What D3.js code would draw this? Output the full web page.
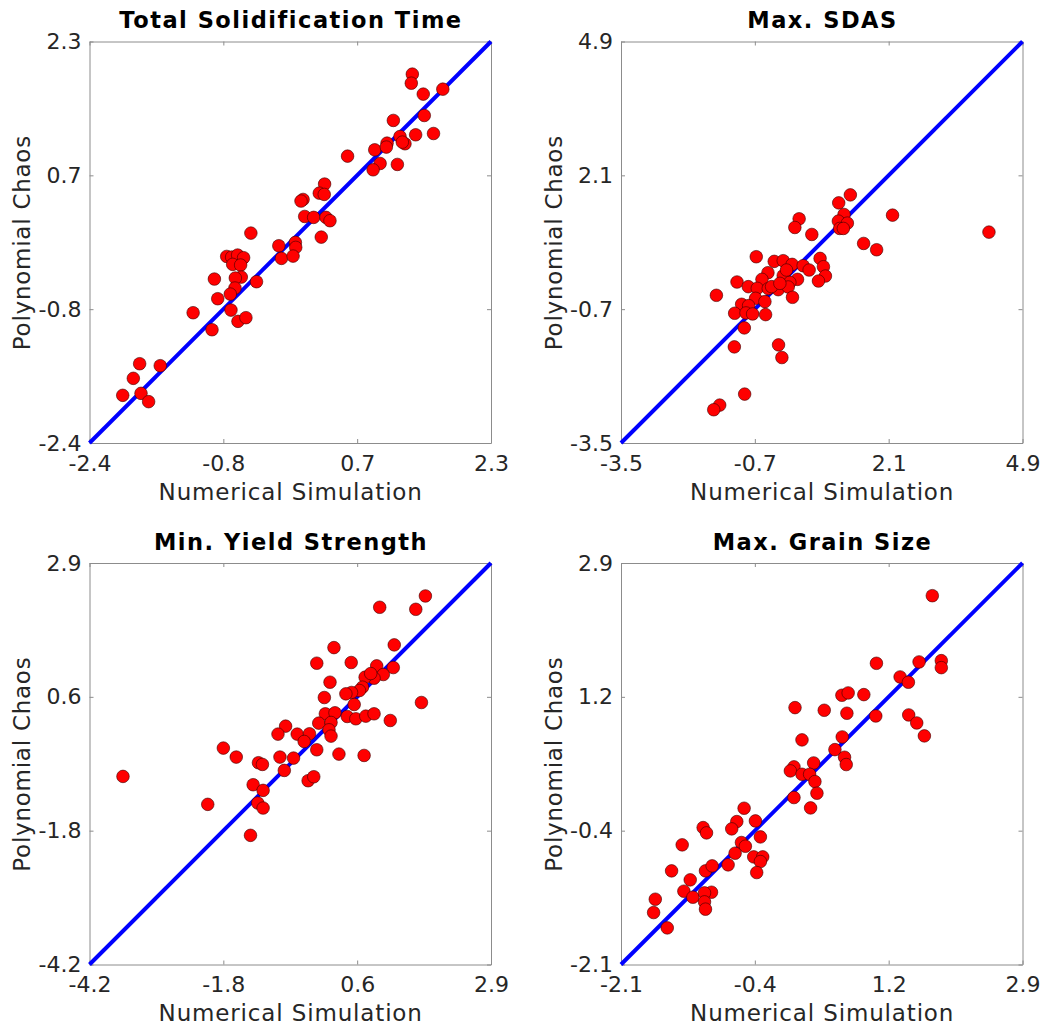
<!DOCTYPE html>
<html>
<head>
<meta charset="utf-8">
<script src="https://cdn.jsdelivr.net/npm/d3@7"></script>
<style>
  html, body { margin: 0; padding: 0; background: #fff; }
  svg { display: block; }
  text { font-family: "DejaVu Sans", sans-serif; fill: #262626; }
</style>
</head>
<body>
<svg id="chart" width="1049" height="1030"></svg>
<script>
// Panel titles and axis limits (each panel is square: same limits on x and y)
const titles = ["Total Solidification Time", "Max. SDAS", "Min. Yield Strength", "Max. Grain Size"];
const limits = [[-2.4, 2.3], [-3.5, 4.9], [-4.2, 2.9], [-2.1, 2.9]];
const tickLabels = [
  ["-2.4", "-0.8", "0.7", "2.3"],
  ["-3.5", "-0.7", "2.1", "4.9"],
  ["-4.2", "-1.8", "0.6", "2.9"],
  ["-2.1", "-0.4", "1.2", "2.9"]
];
const xLabel = "Numerical Simulation";
const yLabel = "Polynomial Chaos";

// Numerical simulation (x) vs polynomial chaos (y) pairs
const solidTimeSim = [1.379,1.367,1.507,1.736,1.157,1.519,1.235,1.418,1.627,1.083,1.293,1.262,0.939,1.075,0.621,1.002,1.204,0.920,0.352,0.290,0.348,0.100,0.076,0.119,0.224,0.368,0.415,0.313,-0.511,-0.184,0.010,0.014,-0.153,-0.017,-0.794,-0.736,-0.666,-0.596,-0.724,-0.631,-0.938,-0.623,-0.693,-0.445,-0.697,-0.752,-0.899,-1.187,-0.744,-0.662,-0.569,-0.966,-1.813,-1.572,-1.887,-1.797,-2.011,-1.708];
const solidTimePC  = [1.918,1.812,1.684,1.742,1.376,1.434,1.188,1.208,1.223,1.110,1.103,1.122,1.032,1.064,0.958,0.872,0.861,0.798,0.631,0.525,0.510,0.451,0.432,0.252,0.241,0.241,0.202,0.010,0.057,-0.091,-0.052,-0.110,-0.239,-0.212,-0.216,-0.224,-0.200,-0.231,-0.309,-0.317,-0.481,-0.458,-0.469,-0.512,-0.586,-0.657,-0.711,-0.875,-0.844,-0.976,-0.933,-1.074,-1.472,-1.495,-1.643,-1.819,-1.842,-1.916];

const sdasSim = [1.298,1.055,1.166,1.048,1.236,1.076,1.152,2.181,4.198,0.227,0.137,0.492,1.576,1.848,-0.670,0.665,-0.294,-0.106,0.081,0.311,0.436,0.735,0.777,0.631,-0.426,0.193,-0.106,-0.551,-1.073,0.033,-0.837,-0.649,-0.419,-0.211,-0.002,-1.504,0.088,-0.684,-0.489,-0.976,-0.830,-1.122,-0.885,-0.746,-0.475,-0.920,-1.129,-0.204,-0.134,-0.913,-1.435,-1.560,-0.350,-0.176,-0.037];
const sdasPC  = [1.691,1.524,1.281,1.142,1.100,0.989,0.989,1.267,0.912,1.190,1.009,0.863,0.675,0.543,0.397,0.362,0.300,0.314,0.237,0.209,0.119,0.188,-0.007,-0.111,0.063,-0.076,0.000,-0.076,-0.132,-0.139,-0.229,-0.264,-0.271,-0.292,-0.236,-0.410,-0.452,-0.473,-0.542,-0.598,-0.626,-0.786,-0.779,-0.800,-0.814,-1.092,-1.489,-1.447,-1.712,-2.477,-2.707,-2.804,-0.229,-0.160,0.119];

const yieldSim = [1.740,1.570,0.932,1.189,0.123,-0.181,0.428,0.879,1.172,0.996,0.832,0.674,0.773,0.053,0.627,0.574,0.434,0.334,-0.047,0.481,1.670,-0.029,0.141,0.358,0.510,0.686,0.832,1.119,-0.146,0.071,0.035,0.071,-0.732,-0.867,-0.527,-0.310,-0.404,-0.181,0.211,0.656,-1.833,-1.605,-0.832,-0.592,-1.212,-1.142,-0.755,-0.334,-0.234,-3.608,-1.306,-1.130,-1.224,-1.130,-2.109,-1.353];
const yieldPC  = [2.317,2.081,2.117,1.452,1.404,1.128,1.140,1.081,1.051,0.928,0.863,0.881,0.945,0.792,0.704,0.645,0.610,0.586,0.521,0.398,0.433,0.233,0.251,0.186,0.145,0.192,0.233,0.115,0.068,0.080,-0.050,-0.161,0.015,-0.126,-0.126,-0.120,-0.256,-0.403,-0.479,-0.503,-0.373,-0.532,-0.532,-0.550,-0.632,-0.662,-0.768,-0.950,-0.880,-0.874,-1.021,-1.121,-1.345,-1.433,-1.368,-1.916];

const grainSim = [1.777,1.081,1.612,1.889,1.889,1.376,1.479,0.651,0.729,0.924,0.067,0.431,0.713,1.073,1.483,1.583,1.678,0.154,0.655,0.564,0.684,0.705,0.054,0.299,0.009,0.154,0.249,0.315,0.340,0.054,0.261,-0.567,-0.426,-0.658,-0.721,-1.077,-1.035,-0.364,-1.338,-0.600,-0.551,-0.679,-0.766,-0.447,-0.335,-0.364,-0.410,-1.048,-0.965,-1.470,-1.238,-1.317,-1.205,-0.973,-1.060,-1.060,-1.048,-1.673,-1.694,-1.524];
const grainPC  = [2.493,1.651,1.668,1.684,1.597,1.481,1.415,1.253,1.282,1.261,1.099,1.066,1.029,0.995,1.008,0.908,0.747,0.697,0.734,0.576,0.481,0.390,0.361,0.410,0.311,0.269,0.269,0.178,0.033,-0.021,-0.150,-0.154,-0.312,-0.320,-0.411,-0.395,-0.461,-0.511,-0.610,-0.581,-0.627,-0.714,-0.859,-0.760,-0.760,-0.818,-0.955,-0.934,-0.872,-0.934,-1.046,-1.187,-1.262,-1.200,-1.208,-1.320,-1.411,-1.287,-1.453,-1.644];

const simValues = [solidTimeSim, sdasSim, yieldSim, grainSim];
const pcValues  = [solidTimePC, sdasPC, yieldPC, grainPC];

// Layout of the 2x2 grid
const panelLeft = [89.5, 621];
const panelTop = [41.5, 563];
const size = 401.5;

const svg = d3.select("#chart");

titles.forEach((title, i) => {
  const col = i % 2, row = Math.floor(i / 2);
  const [lo, hi] = limits[i];
  const x = d3.scaleLinear().domain([lo, hi]).range([0, size]);
  const y = d3.scaleLinear().domain([lo, hi]).range([size, 0]);
  const ticks = d3.range(4).map(k => lo + (hi - lo) * k / 3);
  const fmt = (d) => tickLabels[i][ticks.indexOf(d)];

  const g = svg.append("g")
    .attr("transform", `translate(${panelLeft[col]},${panelTop[row]})`);

  // Axes with inward ticks on all four sides
  const styleAxis = (sel) => {
    sel.select(".domain").attr("stroke", "#8c8c8c").attr("stroke-width", 1);
    sel.selectAll(".tick line").attr("stroke", "#8c8c8c");
    sel.selectAll(".tick text")
      .attr("font-size", "22px")
      .attr("fill", "#262626")
      .style("font-family", "'DejaVu Sans', sans-serif");
  };

  g.append("g").attr("transform", `translate(0,${size})`)
    .call(d3.axisBottom(x).tickValues(ticks).tickFormat(fmt).tickSizeInner(-4).tickSizeOuter(0).tickPadding(12))
    .call(styleAxis);
  g.append("g")
    .call(d3.axisLeft(y).tickValues(ticks).tickFormat(fmt).tickSizeInner(-4).tickSizeOuter(0).tickPadding(8))
    .call(styleAxis);
  g.append("g")
    .call(d3.axisTop(x).tickValues(ticks).tickFormat("").tickSizeInner(-4).tickSizeOuter(0))
    .call(styleAxis);
  g.append("g").attr("transform", `translate(${size},0)`)
    .call(d3.axisRight(y).tickValues(ticks).tickFormat("").tickSizeInner(-4).tickSizeOuter(0))
    .call(styleAxis);

  // Identity line y = x
  g.append("line")
    .attr("x1", x(lo)).attr("y1", y(lo))
    .attr("x2", x(hi)).attr("y2", y(hi))
    .attr("stroke", "#0000ff")
    .attr("stroke-width", 4);

  // Scatter points
  g.append("g").selectAll("circle")
    .data(simValues[i].map((s, k) => [s, pcValues[i][k]]))
    .join("circle")
    .attr("cx", d => x(d[0]))
    .attr("cy", d => y(d[1]))
    .attr("r", 6.3)
    .attr("fill", "#ff0000")
    .attr("stroke", "#3a0000")
    .attr("stroke-width", 0.6);

  // Title and axis labels
  g.append("text")
    .attr("x", size / 2 + 0.75).attr("y", -13.2)
    .attr("text-anchor", "middle")
    .attr("font-size", "22.5px")
    .attr("font-weight", "bold")
    .attr("letter-spacing", "1.5px")
    .style("fill", "#000")
    .text(title);

  g.append("text")
    .attr("x", size / 2 + 0.4).attr("y", size + 56.5)
    .attr("text-anchor", "middle")
    .attr("font-size", "23px")
    .attr("letter-spacing", "0.85px")
    .text(xLabel);

  g.append("text")
    .attr("transform", `translate(-59.5,${size / 2 + 0.4}) rotate(-90)`)
    .attr("text-anchor", "middle")
    .attr("font-size", "23px")
    .attr("letter-spacing", "0.75px")
    .text(yLabel);
});
</script>
</body>
</html>
